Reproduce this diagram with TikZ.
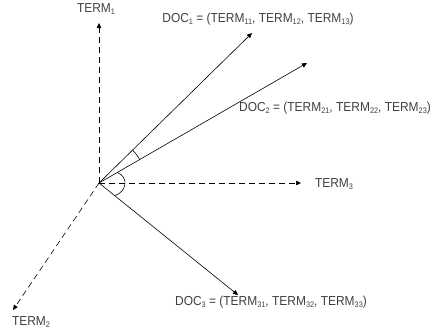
\documentclass[tikz,border=0pt]{standalone}
\usepackage{fontspec}
\setmainfont{Liberation Sans}
\newfontfamily\lblfont[FakeStretch=0.92]{Liberation Sans}
\usetikzlibrary{arrows.meta}
\newcommand{\idx}[1]{\raisebox{-0.35ex}{\fontsize{8}{9}\selectfont #1}}
\begin{document}
\begin{tikzpicture}[x=1pt,y=-1pt,line width=0.6pt,
  lbl/.style={inner sep=0pt,text=black!75,font=\lblfont\fontsize{13}{15}\selectfont},
  tip/.style={-{Triangle[length=5pt,width=4.5pt]}},
  axis/.style={tip,dash pattern=on 6pt off 4pt},
  vec/.style={tip}]
\useasboundingbox (0,0) rectangle (433,335);

% origin and arrow ends
\coordinate (O)  at (99,183);
\coordinate (e1) at (99,23);
\coordinate (e2) at (13,310);
\coordinate (e3) at (301,183);
\coordinate (d1) at (252,33);
\coordinate (d2) at (307,63);
\coordinate (d3) at (238,295);

% labels
\node[lbl] (t1) at (96,9)    {TERM\idx{1}};
\node[lbl] (t2) at (31,322)  {TERM\idx{2}};
\node[lbl] (t3) at (334,184) {TERM\idx{3}};
\node[lbl] (v1) at (258,19)  {DOC\idx{1} = (TERM\idx{11}, TERM\idx{12}, TERM\idx{13})};
\node[lbl] (v2) at (335,108) {DOC\idx{2} = (TERM\idx{21}, TERM\idx{22}, TERM\idx{23})};
\node[lbl] (v3) at (271,302) {DOC\idx{3} = (TERM\idx{31}, TERM\idx{32}, TERM\idx{33})};

% term axes
\draw[axis] (O) -- (e1);
\draw[axis] (O) -- (e2);
\draw[axis] (O) -- (e3);

% document vectors
\draw[vec] (O) -- (d1);
\draw[vec] (O) -- (d2);
\draw[vec] (O) -- (d3);

% angle marks
\draw ([shift={(-29.7:47)}]O) arc[start angle=-29.7,end angle=-44.2,radius=47];
\draw ([shift={(-29.7:21)}]O) .. controls +(12,4) and +(12,-3) .. ([shift={(38.9:20)}]O);
\end{tikzpicture}
\end{document}
